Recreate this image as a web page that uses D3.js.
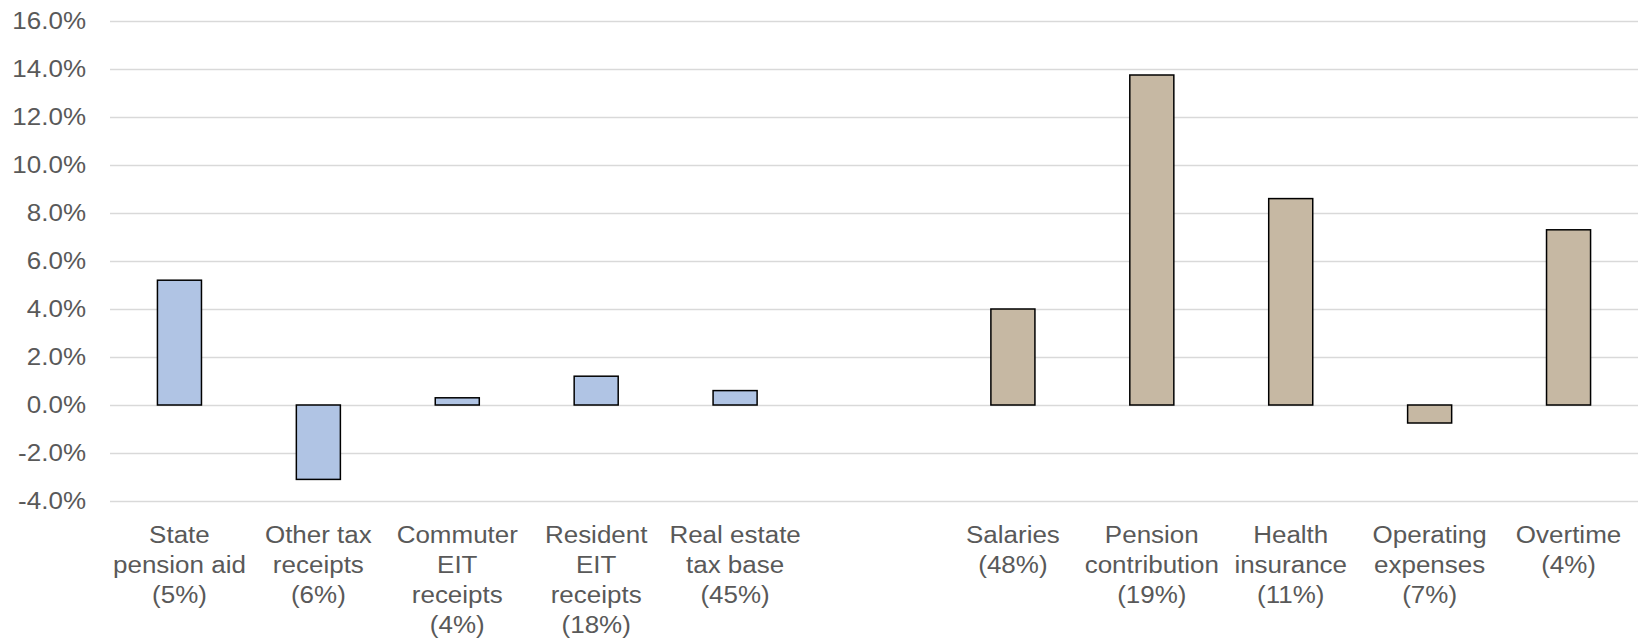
<!DOCTYPE html>
<html>
<head>
<meta charset="utf-8">
<script src="https://cdn.jsdelivr.net/npm/d3@7"></script>
<style>
  body { margin: 0; background: #fff; }
  svg text { font-family: "Liberation Sans", Arial, sans-serif; font-size: 23px; fill: #595959; }
</style>
</head>
<body>
<svg width="1638" height="639"></svg>
<script>
// revenue side (blue) and expense side (tan), growth rates in %
var revenueCats = ["State pension aid", "Other tax receipts", "Commuter EIT receipts", "Resident EIT receipts", "Real estate tax base"];
var revenueValues = [5.2, -3.1, 0.3, 1.2, 0.6];
var revenueLines = [
  ["State", "pension aid", "(5%)"],
  ["Other tax", "receipts", "(6%)"],
  ["Commuter", "EIT", "receipts", "(4%)"],
  ["Resident", "EIT", "receipts", "(18%)"],
  ["Real estate", "tax base", "(45%)"]
];

var expenseCats = ["Salaries", "Pension contribution", "Health insurance", "Operating expenses", "Overtime"];
var expenseValues = [4.0, 13.75, 8.6, -0.75, 7.3];
var expenseLines = [
  ["Salaries", "(48%)"],
  ["Pension", "contribution", "(19%)"],
  ["Health", "insurance", "(11%)"],
  ["Operating", "expenses", "(7%)"],
  ["Overtime", "(4%)"]
];

var yTicks = [-4, -2, 0, 2, 4, 6, 8, 10, 12, 14, 16];

var svg = d3.select("svg"),
  margin = {
    top: 21,
    right: 0,
    bottom: 138,
    left: 110
  },
  width = +svg.attr("width") - margin.left - margin.right,
  height = +svg.attr("height") - margin.top - margin.bottom;

var stretch = 1.13; // text in the source is a bit wide

// empty slot between the two groups
var domain = revenueCats.concat([" "]).concat(expenseCats);

var bars = revenueCats.map(function(c, i) {
  return { cat: c, value: revenueValues[i], lines: revenueLines[i], fill: "#b0c4e4" };
}).concat(expenseCats.map(function(c, i) {
  return { cat: c, value: expenseValues[i], lines: expenseLines[i], fill: "#c6b8a3" };
}));

var x = d3.scaleBand().domain(domain).range([0, width]).paddingInner(0.683).paddingOuter(0.3415);
var y = d3.scaleLinear().domain([-4, 16]).range([height, 0]);

var g = svg.append("g")
  .attr("transform", "translate(" + margin.left + "," + margin.top + ")");

// gridlines
g.append("g")
  .call(d3.axisLeft(y).tickValues(yTicks).tickSize(-width).tickFormat(""))
  .call(function(s) {
    s.select(".domain").remove();
    s.selectAll("line").attr("stroke", "#d9d9d9").attr("stroke-width", 1.3);
  });

// y labels
g.append("g")
  .call(d3.axisLeft(y).tickValues(yTicks).tickSize(0).tickPadding(24)
    .tickFormat(function(d) { return d.toFixed(1) + "%"; }))
  .call(function(s) {
    s.select(".domain").remove();
    s.selectAll("text")
      .attr("x", null)
      .attr("font-family", null).attr("font-size", null).attr("fill", null)
      .attr("transform", "translate(-24,0) scale(" + stretch + ",1)");
  });

g.selectAll("rect.bar")
  .data(bars)
  .enter()
  .append("rect")
  .attr("class", "bar")
  .attr("x", function(d) { return x(d.cat); })
  .attr("width", x.bandwidth())
  .attr("y", function(d) { return y(Math.max(0, d.value)); })
  .attr("height", function(d) { return Math.abs(y(d.value) - y(0)); })
  .attr("fill", function(d) { return d.fill; })
  .attr("stroke", "#000")
  .attr("stroke-width", 1.5);

// category labels
var xAxis = g.append("g")
  .attr("transform", "translate(0," + height + ")")
  .call(d3.axisBottom(x).tickSize(0).tickFormat(""));
xAxis.select(".domain").remove();

xAxis.selectAll(".tick").each(function(cat) {
  var b = bars.find(function(d) { return d.cat === cat; });
  if (!b) return;
  var t = d3.select(this).select("text")
    .attr("y", null).attr("dy", null)
    .attr("font-family", null).attr("font-size", null).attr("fill", null)
    .attr("text-anchor", "middle")
    .attr("transform", "scale(" + stretch + ",1)");
  b.lines.forEach(function(line, i) {
    t.append("tspan").attr("x", 0).attr("y", 42 + i * 30).text(line);
  });
});
</script>
</body>
</html>
